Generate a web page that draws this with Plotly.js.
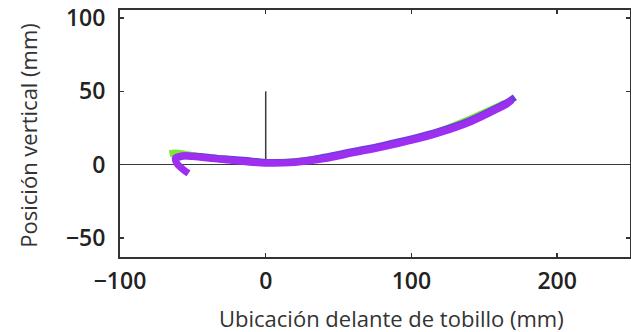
<!DOCTYPE html>
<html><head><meta charset="utf-8">
<script src="https://cdn.plot.ly/plotly-3.0.1.min.js"></script>
<style>html,body{margin:0;padding:0;background:#fff;}#c{width:631px;height:332px;}</style>
</head><body><div id="c"></div>
<script>
// Trajectories (mm): forward position vs vertical position
const greenX = [-66, -62, -55, -45, -30, -15, 0, 20, 40, 60, 80, 100, 120, 140, 150, 158, 164];
const greenY = [7.5, 8, 7, 5.5, 4, 2.5, 1.5, 2, 4.5, 8.5, 12.5, 17, 23, 31, 35.5, 39, 42];
const blueX = [-60, -55, -45, -30, -15, 0, 20, 40, 60, 80, 100, 120, 140, 155, 165, 171];
const blueY = [5, 6, 5.5, 4, 3, 1.5, 2, 5, 9, 13, 17.5, 23, 30, 37, 42, 46];
const purpleX = [-53, -57, -61, -62, -58, -50, -35, -20, 0, 20, 40, 60, 80, 100, 120, 140, 155, 165, 169];
const purpleY = [-6, -3, 1, 4.5, 6, 5.5, 4, 2.5, 1, 1.5, 4, 8, 12, 16.5, 22, 29, 36, 41, 44];
// Vertical reference segment at ankle
const refX = [0, 0];
const refY = [0, 50];
const xTicks = [-100, 0, 100, 200];
const yTicks = [-50, 0, 50, 100];
const xTitle = 'Ubicación delante de tobillo (mm)';
const yTitle = 'Posición vertical (mm)';

const lw = 7;
const data = [
  {x: refX, y: refY, mode: 'lines', line: {color: '#3a3a3a', width: 1.5}, hoverinfo: 'skip'},
  {x: greenX, y: greenY, mode: 'lines', line: {color: '#7be83a', width: lw, shape: 'spline'}},
  {x: blueX, y: blueY, mode: 'lines', line: {color: '#6a3fe0', width: lw, shape: 'spline'}},
  {x: purpleX, y: purpleY, mode: 'lines', line: {color: '#9e2ef0', width: lw, shape: 'spline'}}
];
const fam = 'Open Sans, Liberation Sans, Arial, sans-serif';
const axFont = {family: fam, size: 23, color: '#222', weight: 600};
const titleFont = {family: fam, size: 22, color: '#333'};
const layout = {
  width: 631, height: 332,
  margin: {l: 120, r: 1, t: 10, b: 75},
  showlegend: false,
  paper_bgcolor: '#fff', plot_bgcolor: '#fff',
  xaxis: {
    range: [-100, 250], tickvals: xTicks, ticktext: xTicks.map(v => v < 0 ? '\u2212' + (-v) : String(v)),
    ticks: 'inside', ticklen: 4, tickcolor: '#333', tickwidth: 1.5, ticklabelstandoff: 2,
    showgrid: false, zeroline: false, showline: true, linecolor: '#333', linewidth: 2, mirror: 'ticks',
    tickfont: axFont
  },
  yaxis: {
    range: [-63, 105.5], tickvals: yTicks, ticktext: yTicks.map(v => v < 0 ? '\u2212' + (-v) : String(v)),
    ticks: 'inside', ticklen: 4, tickcolor: '#333', tickwidth: 1.5, ticklabelstandoff: 8,
    showgrid: false, zeroline: true, zerolinecolor: '#3a3a3a', zerolinewidth: 1.5,
    showline: true, linecolor: '#333', linewidth: 2, mirror: 'ticks',
    tickfont: axFont
  },
  annotations: [
    {text: xTitle, xref: 'paper', yref: 'paper', x: 0.533, y: -0.247, xanchor: 'center', yanchor: 'middle', showarrow: false, font: titleFont},
    {text: yTitle, xref: 'paper', yref: 'paper', x: -0.180, y: 0.492, xanchor: 'center', yanchor: 'middle', textangle: -90, showarrow: false, font: titleFont}
  ]
};
Plotly.newPlot('c', data, layout, {staticPlot: true, displayModeBar: false});
</script></body></html>
